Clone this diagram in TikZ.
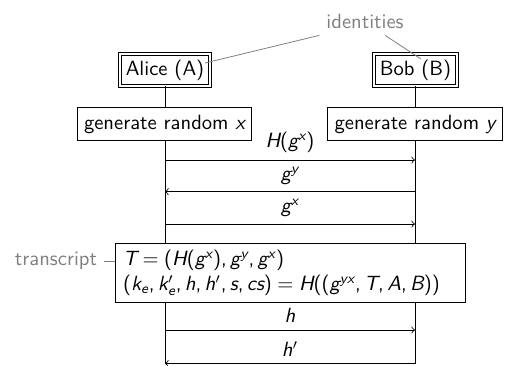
\documentclass[tikz,border=0pt]{standalone}
\DeclareSymbolFont{operators}{TU}{lmss}{m}{n}
\DeclareSymbolFont{letters}{TU}{lmss}{m}{it}
\mathcode`\,="602C
\usetikzlibrary{calc}
\tikzset{
  party/.style={draw, double, double distance=1.2pt, minimum height=16pt, inner sep=2pt},
  actbox/.style={draw, minimum height=16.8pt},
  msg/.style={->},
  note/.style={gray, text=gray},
}
\begin{document}
\begin{tikzpicture}[x=0.5pt,y=-0.5pt, font={\sffamily\fontsize{10.3}{12.5}\selectfont}]
\useasboundingbox (0,0) rectangle (506,365);
% parties
\node[party, minimum width=45pt] (alice) at (165,70) {Alice (A)};
\node[party, minimum width=41.5pt] (bob) at (415.5,70) {Bob (B)};
\node[actbox] (genA) at (164.5,124) {generate random $x$};
\node[actbox] (genB) at (415,124) {generate random $y$};
\node[draw, align=left, text width=167pt, inner xsep=4pt, minimum height=29.8pt] (trans) at (290,273) {$T = (H(g^x), g^y, g^x)$\\$(k_e, k_e', h, h', s, cs) = H((g^{yx}, T, A, B))$};
\coordinate (endA) at (165,363.5);
\coordinate (endB) at (415,363.5);
% lifelines
\draw (alice.south) -- (alice.south |- genA.north);
\draw (endB |- bob.south) -- (endB |- genB.north);
\draw (endA |- genA.south) -- (endA |- trans.north);
\draw (endB |- genB.south) -- (endB |- trans.north);
\draw (endA |- trans.south) -- (endA);
\draw (endB |- trans.south) -- (endB);
% messages
\coordinate (a1) at (165,160); \coordinate (b1) at (415,160);
\coordinate (a2) at (165,191.7); \coordinate (b2) at (415,191.7);
\coordinate (a3) at (165,224); \coordinate (b3) at (415,224);
\coordinate (a4) at (165,330); \coordinate (b4) at (415,330);
\draw[msg] (a1) -- node[above] {$H(g^x)$} (b1);
\draw[msg] (b2) -- node[above] {$g^y$} (a2);
\draw[msg] (a3) -- node[above] {$g^x$} (b3);
\draw[msg] (a4) -- node[above] {$h$} (b4);
\draw[msg] (endB) -- node[above] {$h'$} (endA);
% notes
\node[note] (ident) at (365,21) {identities};
\coordinate (aliceTag) at (205,63);
\coordinate (bobTag) at (421,59);
\draw[note] (ident.south west) -- (aliceTag);
\draw[note] ([xshift=10pt]ident.south) -- (bobTag);
\node[note] (tlabel) at (56,261) {transcript};
\draw[note] (tlabel.east) -- (tlabel.east -| trans.west);
\end{tikzpicture}
\end{document}
